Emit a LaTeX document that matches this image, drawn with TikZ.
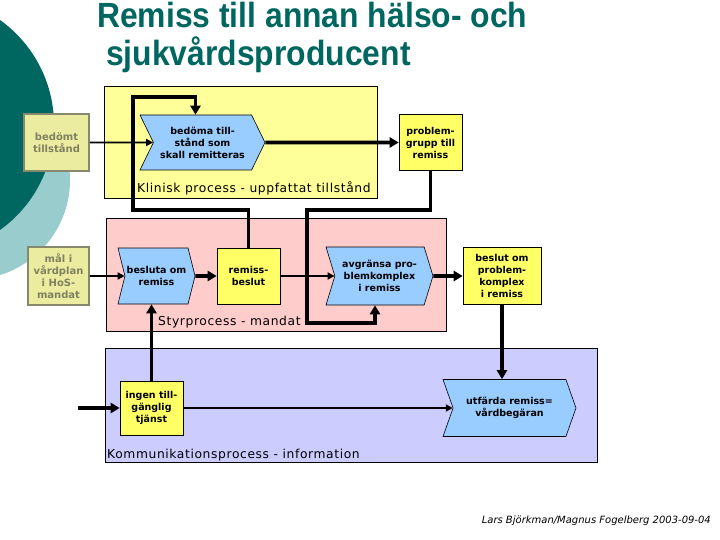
\documentclass[tikz,border=0pt]{standalone}
\usepackage{fontspec}
\usepackage{tikz}
\usetikzlibrary{shapes.symbols, arrows.meta}
\setmainfont{DejaVu Sans}
\newfontfamily\titlefont[FakeStretch=0.91]{Liberation Sans}
\newfontfamily\labelfont[LetterSpace=5.0]{DejaVu Sans}
\newcommand\boxtext{\fontsize{9.5}{12}\selectfont\bfseries}
\newcommand\giventext{\fontsize{10}{12}\selectfont\bfseries}
\newcommand\labeltext{\labelfont\fontsize{12.3}{14}\selectfont}
\definecolor{darkteal}{RGB}{0,102,96}
\definecolor{lightteal}{RGB}{153,204,204}
\definecolor{klinfill}{RGB}{255,255,153}
\definecolor{styrfill}{RGB}{255,204,204}
\definecolor{kommfill}{RGB}{204,204,255}
\definecolor{chevblue}{RGB}{153,204,255}
\definecolor{eventyellow}{RGB}{255,255,102}
\definecolor{givenfill}{RGB}{236,236,160}
\definecolor{givenedge}{RGB}{136,136,110}
\definecolor{givenink}{RGB}{128,128,96}
\begin{document}
\begin{tikzpicture}[x=1pt, y=-1pt,
  region/.style={draw, line width=0.8, inner sep=0},
  process/.style={signal, signal from=west, signal to=east, draw, line width=0.6, fill=chevblue, inner sep=1, align=center, font=\boxtext},
  event/.style={draw, line width=0.6, fill=eventyellow, inner sep=1, align=center, font=\boxtext},
  given/.style={draw=givenedge, line width=1.5, fill=givenfill, text=givenink, inner sep=1, align=center, font=\giventext},
  region label/.style={anchor=base west, inner sep=0, font=\labeltext},
  thick flow/.style={line width=3.8, -{Triangle[length=9pt, width=10pt]}},
  thin flow/.style={line width=1.8, -{Triangle[length=7pt, width=7pt]}},
]
\useasboundingbox (0,0) rectangle (720,540);
\fill[white] (0,0) rectangle (720,540);
\begin{scope}
\clip (0,0) rectangle (720,540);
\fill[lightteal] (-29.5,180) circle[radius=99.5];
\fill[darkteal] (-75,125) circle[radius=129];
\end{scope}

\node[anchor=north west, align=left, inner sep=0, text=darkteal, font=\titlefont\bfseries\fontsize{35}{38}\selectfont] (title) at (97,2) {Remiss till annan hälso- och\\\hspace*{9pt}sjukvårdsproducent};

% processes
\node[region, fill=klinfill, minimum width=273, minimum height=112] (klinisk box) at (240.5,142) {};
\node[region label] (klinisk label) at (137,193) {Klinisk process - uppfattat tillstånd};

\node[region, fill=styrfill, minimum width=340, minimum height=113] (styr box) at (276,274.5) {};
\node[region label] (styr label) at (158,325) {Styrprocess - mandat};

\node[region, fill=kommfill, minimum width=492, minimum height=114] (komm box) at (351,405) {};
\node[region label] (komm label) at (107,458) {Kommunikationsprocess - information};

% boxes
\node[given, minimum width=65, minimum height=57] (bedomt box) at (56.5,142.5) {bedömt\\tillstånd};
\node[process, signal pointer angle=128, minimum width=125, minimum height=55] (bedoma box) at (202.5,142.5) {bedöma till-\\stånd som\\skall remitteras};
\node[event, minimum width=63, minimum height=56] (problem box) at (430.5,142.5) {problem-\\grupp till\\remiss};

\node[given, minimum width=61, minimum height=58] (mal box) at (58.5,276) {mål i\\vårdplan\\i HoS-\\mandat};
\node[process, signal pointer angle=152, minimum width=77, minimum height=56] (besluta box) at (156.5,276) {besluta om\\remiss};
\node[event, minimum width=63, minimum height=56] (remiss beslut box) at (248.5,276) {remiss-\\beslut};
\node[process, signal pointer angle=146, minimum width=107, minimum height=58] (avgransa box) at (379.5,276) {avgränsa pro-\\blemkomplex\\i remiss};
\node[event, minimum width=78, minimum height=57] (beslut om box) at (502,276) {beslut om\\problem-\\komplex\\i remiss};

\node[event, minimum width=63, minimum height=54] (ingen box) at (151.5,408) {ingen till-\\gänglig\\tjänst};
\node[process, signal pointer angle=141, minimum width=133, minimum height=57] (utfarda box) at (509.5,408) {utfärda remiss=\\vårdbegäran};

\node[anchor=base east, inner sep=0, font=\itshape\fontsize{10}{12}\selectfont] (signature) at (711,523) {Lars Björkman/Magnus Fogelberg 2003-09-04};

% connectors
\coordinate (loop bottom) at (133,210);
\coordinate (loop top) at (133,97);
\coordinate (problem turn) at (307,210);
\coordinate (avgransa turn) at (307,323);
\coordinate (komm in) at (78,408);

\draw[thin flow] (bedomt box) -- (bedoma box);
\draw[thick flow] (bedoma box) -- (problem box);
\draw[thick flow] (remiss beslut box.north) |- (loop bottom) -- (loop top) -| ([xshift=-7]bedoma box.north);
\draw[thick flow] (problem box.south) |- (problem turn) -- (avgransa turn) -| ([xshift=-4.5]avgransa box.south);

\draw[thin flow] (mal box) -- (besluta box);
\draw[thick flow] (besluta box) -- (remiss beslut box);
\draw[thin flow] (remiss beslut box) -- (avgransa box);
\draw[thick flow] (avgransa box) -- (beslut om box);
\draw[thick flow] (beslut om box.south) -- (beslut om box.south |- utfarda box.north);

\draw[thick flow] (ingen box.north) -- (ingen box.north |- besluta box.south);
\draw[thick flow] (komm in) -- (ingen box);
\draw[thin flow] (ingen box) -- (utfarda box);
\end{tikzpicture}
\end{document}
